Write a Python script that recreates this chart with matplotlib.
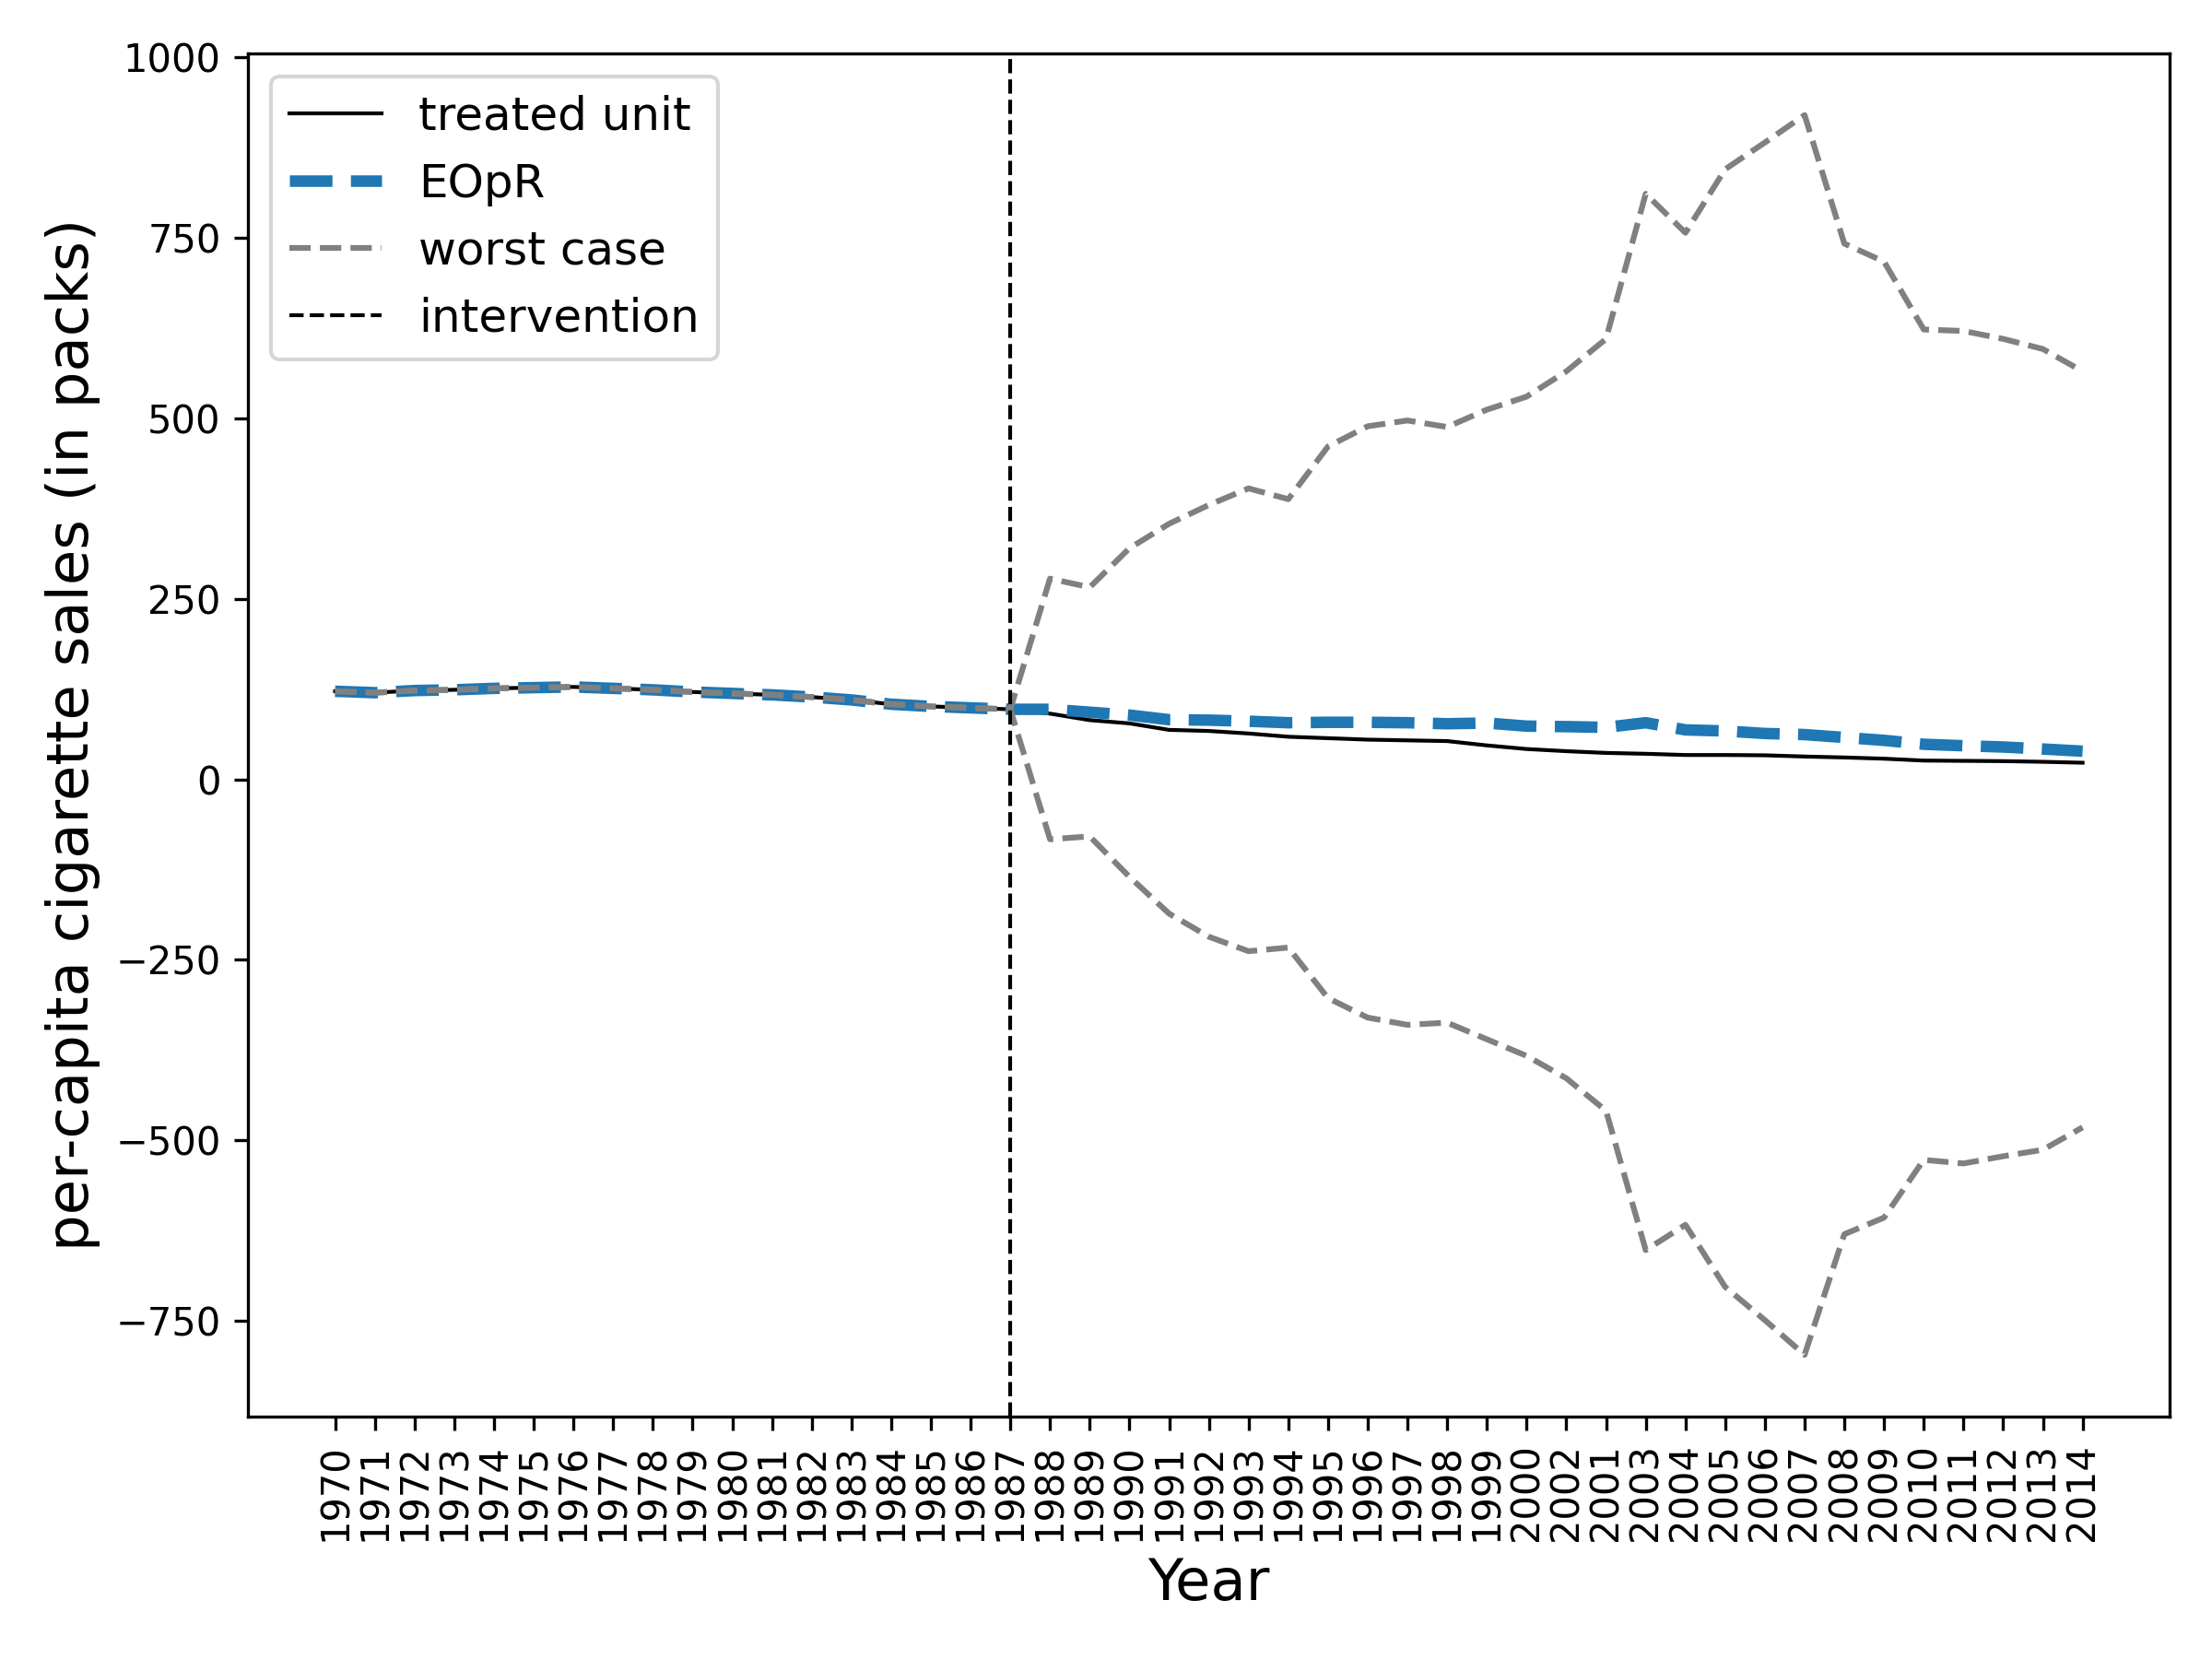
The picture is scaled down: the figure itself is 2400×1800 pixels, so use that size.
import numpy as np
import matplotlib
matplotlib.use("Agg")
import matplotlib.pyplot as plt

years = ["1970", "1971", "1972", "1973", "1974", "1975", "1976", "1977", "1978", "1979",
         "1980", "1981", "1982", "1983", "1984", "1985", "1986", "1987", "1988", "1989",
         "1990", "1991", "1992", "1993", "1994", "1995", "1996", "1997", "1998", "1999",
         "2000", "2002", "2001", "2003", "2004", "2005", "2006", "2007", "2008", "2009",
         "2010", "2011", "2012", "2013", "2014"]

pre = [122, 120, 123, 124, 126, 127, 128, 126, 124, 121,
       119, 117, 114, 110, 104, 101, 99, 97]

treated = pre + [91, 82, 77.5, 68.5, 67, 63.5, 59, 57, 55, 54, 53, 47, 42, 39, 36.6,
                 35.4, 33.7, 33.7, 33.3, 31.6, 30.3, 28.6, 26, 25.6, 25.2, 24.3, 23]

eopr = pre + [97, 93, 89, 82.6, 82, 80.5, 78.4, 79, 79, 78.4, 77, 78, 73.7, 73, 72,
              78.4, 68.5, 67, 63.5, 62, 58, 54, 48.6, 46.5, 44.8, 42, 39]

worst_upper = pre + [278, 266, 320, 354, 380, 403, 388, 461, 489, 497, 488, 512, 530,
                     565, 610, 811, 757, 845, 882, 920, 742, 717, 623, 621, 610, 596, 565]

worst_lower = pre + [-83, -79, -135, -186, -218, -238, -233, -303, -330, -340, -337,
                     -360, -383, -414, -459, -652, -617, -703, -749, -797, -630, -607,
                     -527, -532, -522, -513, -482]

intervention = "1987"

fig, ax = plt.subplots(figsize=(8, 6), dpi=300)
x = np.arange(len(years))

ax.plot(x, treated, color="black", lw=1, label="treated unit")
ax.plot(x, eopr, color="#1f77b4", lw=3, ls="--", label="EOpR")
ax.plot(x, worst_upper, color="gray", lw=1.5, ls="--", label="worst case")
ax.plot(x, worst_lower, color="gray", lw=1.5, ls="--")
ax.axvline(years.index(intervention), color="black", lw=1, ls="--", label="intervention")

ax.set_xticks(x)
ax.set_xticklabels(years, rotation=90)
ax.set_yticks([-750, -500, -250, 0, 250, 500, 750, 1000])
ax.set_xlabel("Year", fontsize=15)
ax.set_ylabel("per-capita cigarette sales (in packs)", fontsize=15)
ax.legend(loc="upper left", fontsize=12)

fig.subplots_adjust(left=0.112, right=0.981, top=0.968, bottom=0.146)
fig.savefig("out.png", dpi=300)
